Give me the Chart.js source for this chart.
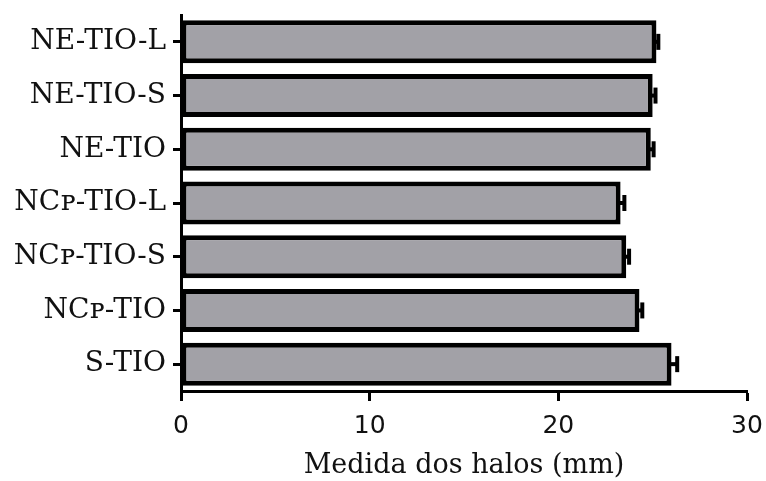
<!DOCTYPE html>
<html>
<head>
<meta charset="utf-8">
<script src="https://cdn.jsdelivr.net/npm/chart.js@4/dist/chart.umd.min.js"></script>
<style>
  html, body { margin: 0; padding: 0; background: #fff; }
  #wrap { width: 766px; height: 481px; position: relative; }
</style>
</head>
<body>
<div id="wrap"><canvas id="halos-chart"></canvas></div>
<script>
var categories = ['NE-TIO-L', 'NE-TIO-S', 'NE-TIO', 'NCᴘ-TIO-L', 'NCᴘ-TIO-S', 'NCᴘ-TIO', 'S-TIO'];
var halos = [25.2, 25.0, 24.9, 23.3, 23.6, 24.3, 26.0];
var halosErr = [0.1, 0.15, 0.15, 0.2, 0.15, 0.15, 0.3];
var xTicks = [0, 10, 20, 30];

// error bars: only the outer half shows past the bar
var errorBars = {
    id: 'errorBars',
    afterDatasetsDraw: function (chart) {
        var ctx = chart.ctx;
        var xs = chart.scales.x;
        var meta = chart.getDatasetMeta(0);
        ctx.save();
        ctx.fillStyle = '#000';
        meta.data.forEach(function (bar, i) {
            var x0 = xs.getPixelForValue(halos[i]);
            var x1 = xs.getPixelForValue(halos[i] + halosErr[i]);
            ctx.fillRect(x0 - 3, bar.y - 2, x1 - x0 + 3, 4);
            ctx.fillRect(x1 - 2, bar.y - 8, 4, 16);
        });
        ctx.restore();
    }
};

var ctx = document.getElementById('halos-chart').getContext('2d');
var chart = new Chart(ctx, {
    type: 'bar',
    data: {
        labels: categories,
        datasets: [{
            data: halos,
            backgroundColor: '#a2a1a7',
            borderColor: '#000',
            borderWidth: 5,
            borderSkipped: false,
            categoryPercentage: 1,
            barPercentage: 0.8
        }]
    },
    options: {
        indexAxis: 'y',
        responsive: true,
        maintainAspectRatio: false,
        animation: false,
        layout: {
            autoPadding: false,
            padding: { top: 15, right: 19, bottom: 0, left: 0 }
        },
        plugins: {
            legend: { display: false },
            tooltip: { enabled: false }
        },
        scales: {
            x: {
                min: 0,
                max: 30,
                afterBuildTicks: function (scale) {
                    scale.ticks = xTicks.map(function (v) { return { value: v }; });
                },
                afterFit: function (scale) {
                    scale.height = 90;
                    scale.paddingLeft = 0;
                    scale.paddingRight = 0;
                },
                border: { display: true, color: '#000', width: 3 },
                grid: {
                    drawOnChartArea: false,
                    drawTicks: true,
                    tickLength: 10,
                    tickWidth: 3,
                    tickColor: '#000'
                },
                ticks: {
                    color: '#111',
                    padding: 10,
                    maxRotation: 0,
                    font: { family: 'DejaVu Sans', size: 25 }
                },
                title: {
                    display: true,
                    text: 'Medida dos halos (mm)',
                    color: '#111',
                    padding: 0,
                    font: { family: 'DejaVu Serif', size: 27, lineHeight: 1.1 }
                }
            },
            y: {
                afterFit: function (scale) {
                    scale.width = 181;
                    scale.paddingTop = 0;
                    scale.paddingBottom = 0;
                },
                border: { display: true, color: '#000', width: 3 },
                grid: {
                    offset: false,
                    drawOnChartArea: false,
                    drawTicks: true,
                    tickLength: 8,
                    tickWidth: 3,
                    tickColor: '#000'
                },
                ticks: {
                    color: '#111',
                    padding: 7,
                    font: { family: 'DejaVu Serif', size: 28 }
                }
            }
        }
    },
    plugins: [errorBars]
});
</script>
</body>
</html>
